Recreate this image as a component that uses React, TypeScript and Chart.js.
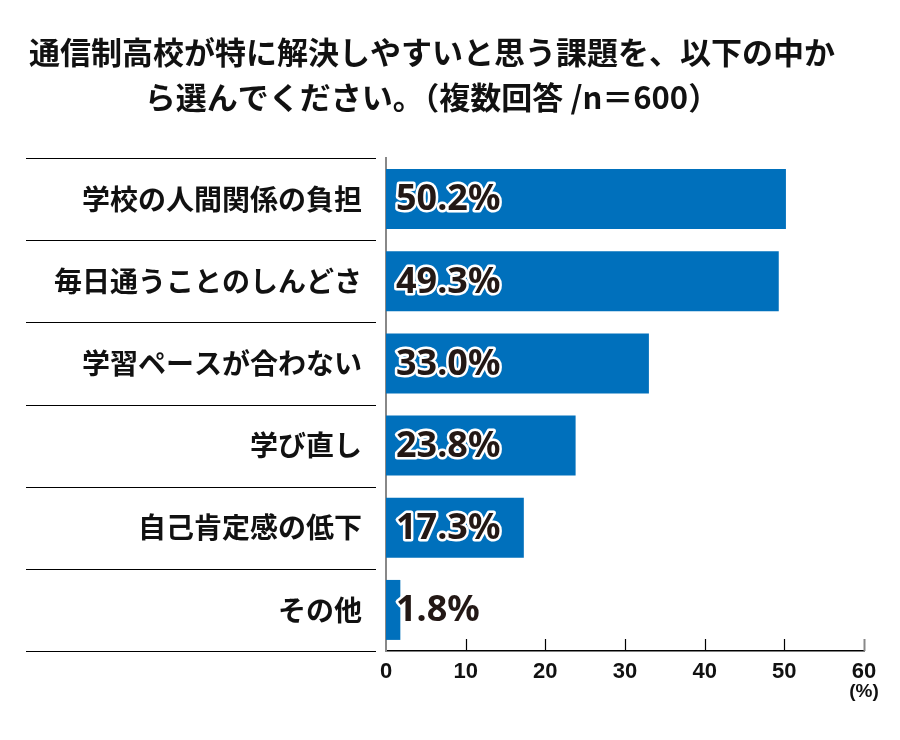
import React, { useEffect, useRef } from "react";
import { Chart, registerables } from "chart.js";

Chart.register(...registerables);

const titleLines = [
  "通信制高校が特に解決しやすいと思う課題を、以下の中か",
  "ら選んでください。（複数回答 /n＝600）",
];
const categories = [
  "学校の人間関係の負担",
  "毎日通うことのしんどさ",
  "学習ペースが合わない",
  "学び直し",
  "自己肯定感の低下",
  "その他",
];
const values = [50.2, 49.3, 33.0, 23.8, 17.3, 1.8];
const xTicks = [0, 10, 20, 30, 40, 50, 60];
const unitLabel = "(%)";

const BAR_COLOR = "#0070bc";
const TEXT_DARK = "#231815";

const decorPlugin = {
  id: "decor",
  afterDraw(chart: any) {
    const ctx = chart.ctx;
    const x = chart.scales.x;
    const y = chart.scales.y;
    const n = categories.length;
    const band = y.getPixelForValue(1) - y.getPixelForValue(0);
    ctx.save();
    ctx.strokeStyle = "#000";
    ctx.lineWidth = 1;
    for (let i = 0; i <= n; i++) {
      const yy = Math.round(y.getPixelForValue(i) - band / 2) + 0.5;
      ctx.beginPath();
      ctx.moveTo(26, yy);
      ctx.lineTo(376, yy);
      ctx.stroke();
    }
    const bottom = chart.chartArea.bottom;
    xTicks.forEach((t, i) => {
      if (t === 0) return;
      const xx = Math.round(x.getPixelForValue(t)) + 0.5;
      ctx.strokeStyle = i === xTicks.length - 1 ? "#888" : "#000";
      ctx.lineWidth = i === xTicks.length - 1 ? 2 : 1.2;
      ctx.beginPath();
      ctx.moveTo(xx, bottom - 12);
      ctx.lineTo(xx, bottom);
      ctx.stroke();
    });
    ctx.fillStyle = "#111";
    ctx.font = "bold 19px 'Liberation Sans', Arial, sans-serif";
    ctx.textAlign = "center";
    ctx.textBaseline = "middle";
    ctx.fillText(unitLabel, x.getPixelForValue(60), bottom + 41);
    ctx.restore();
  },
  afterDatasetsDraw(chart: any) {
    const ctx = chart.ctx;
    const x = chart.scales.x;
    const meta = chart.getDatasetMeta(0);
    ctx.save();
    ctx.font = "bold 36px 'Noto Sans', sans-serif";
    ctx.textAlign = "left";
    ctx.textBaseline = "middle";
    ctx.lineJoin = "round";
    meta.data.forEach((bar: any, i: number) => {
      const txt = values[i].toFixed(1) + "%";
      const tx = x.getPixelForValue(0) + 10;
      const ty = bar.y + 1;
      ctx.strokeStyle = "#fff";
      ctx.lineWidth = 5;
      ctx.strokeText(txt, tx, ty);
      ctx.fillStyle = TEXT_DARK;
      ctx.fillText(txt, tx, ty);
    });
    ctx.restore();
  },
};

export default function App() {
  const ref = useRef<HTMLCanvasElement | null>(null);
  useEffect(() => {
    if (!ref.current) return;
    const chart = new Chart(ref.current, {
      type: "bar",
      data: {
        labels: categories,
        datasets: [
          {
            data: values,
            backgroundColor: BAR_COLOR,
            borderWidth: 0,
            barPercentage: 0.73,
            categoryPercentage: 1,
          },
        ],
      },
      options: {
        indexAxis: "y",
        animation: false,
        responsive: false,
        maintainAspectRatio: false,
        layout: { padding: { left: 0, right: 36, top: 0, bottom: 49 } },
        plugins: {
          legend: { display: false },
          tooltip: { enabled: false },
          title: {
            display: true,
            text: titleLines,
            color: "#111",
            font: {
              family: "'Noto Sans CJK JP', sans-serif",
              size: 31,
              weight: "bold",
              lineHeight: 45 / 31,
            },
            padding: { top: 30, bottom: 38 },
          },
        },
        scales: {
          x: {
            type: "linear",
            min: 0,
            max: 60,
            afterBuildTicks: (s: any) => {
              s.ticks = xTicks.map((v) => ({ value: v }));
            },
            afterFit: (s: any) => {
              s.height = 40;
            },
            grid: { display: false, drawTicks: false },
            border: { display: true, color: "#000", width: 1.5 },
            ticks: {
              color: "#111",
              padding: 8,
              font: {
                family: "'Liberation Sans', Arial, sans-serif",
                size: 22,
                weight: "bold",
              },
            },
          },
          y: {
            type: "category",
            afterFit: (s: any) => {
              s.width = 386;
            },
            grid: { display: false, drawTicks: false },
            border: { display: true, color: "#888", width: 2 },
            ticks: {
              color: "#111",
              padding: 24,
              font: {
                family: "'Noto Sans CJK JP', sans-serif",
                size: 28,
                weight: "bold",
              },
            },
          },
        },
      },
      plugins: [decorPlugin],
    });
    return () => chart.destroy();
  }, []);
  return (
    <div style={{ position: "absolute", left: 0, top: 0, width: 900, height: 740, background: "#fff" }}>
      <canvas ref={ref} width={900} height={740} style={{ width: 900, height: 740 }} />
    </div>
  );
}
